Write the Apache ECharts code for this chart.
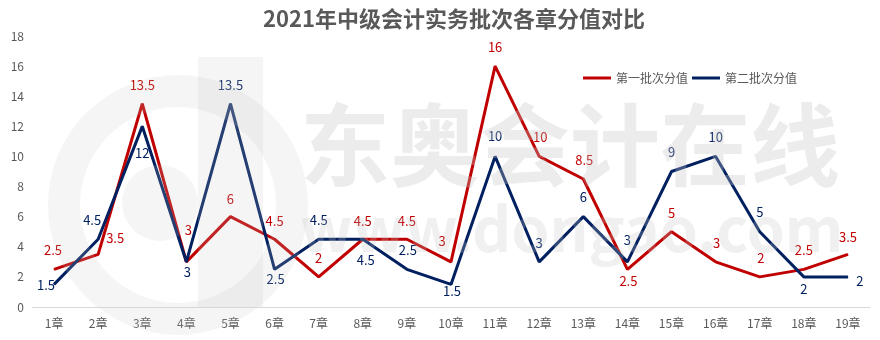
<!DOCTYPE html>
<html>
<head>
<meta charset="utf-8">
<script src="https://cdn.jsdelivr.net/npm/echarts@6/dist/echarts.min.js"></script>
<style>html,body{margin:0;padding:0;background:#fff}#c{width:880px;height:340px}</style>
</head>
<body>
<div id="c"></div>
<script>
var titleText = '2021年中级会计实务批次各章分值对比';
var categories = ['1章','2章','3章','4章','5章','6章','7章','8章','9章','10章','11章','12章','13章','14章','15章','16章','17章','18章','19章'];
var seriesNames = ['第一批次分值', '第二批次分值'];
var batch1 = [2.5, 3.5, 13.5, 3, 6, 4.5, 2, 4.5, 4.5, 3, 16, 10, 8.5, 2.5, 5, 3, 2, 2.5, 3.5];
var batch2 = [1.5, 4.5, 12, 3, 13.5, 2.5, 4.5, 4.5, 2.5, 1.5, 10, 3, 6, 3, 9, 10, 5, 2, 2];

// label offsets (layout only)
var off1 = [[-1,-19],[17,-16],[0,-19],[2,-32],[0,-18],[0,-18],[0,-19],[0,-18],[0,-18],[-9,-21],[0,-19],[1,-19],[1,-19],[1,12],[0,-19],[1,-19],[1,-19],[0,-19],[0,-17]];
var off2 = [[-8,1],[-6,-19],[0,27],[1,10],[0,-19],[1,10],[0,-19],[3,21],[1,-19],[1,7],[0,-20],[0,-19],[0,-20],[0,-22],[0,-19],[0,-19],[0,-20],[0,12],[12,4]];

var red = '#C00000', navy = '#002060';
var font = '"Noto Sans CJK SC", "Noto Sans", sans-serif';

function build(vals, offs) {
  return vals.map(function (v, i) {
    return { value: v, label: { offset: offs[i] } };
  });
}

var chart = echarts.init(document.getElementById('c'), null, { renderer: 'canvas' });
var wm = 'rgba(195,195,195,0.32)';
chart.setOption({
  animation: false,
  backgroundColor: '#fff',
  textStyle: { fontFamily: font },
  title: {
    text: titleText,
    left: 258,
    top: 3,
    textStyle: { fontSize: 22, fontWeight: 'bold', color: '#595959', fontFamily: font }
  },
  legend: {
    left: 578, top: 67,
    itemWidth: 28, itemHeight: 3, itemGap: 4,
    icon: 'rect',
    textStyle: { fontSize: 12, color: '#595959', fontFamily: font },
    data: seriesNames
  },
  grid: { left: 32, right: 10, top: 36, bottom: 33 },
  xAxis: {
    type: 'category',
    data: categories,
    boundaryGap: true,
    axisLine: { lineStyle: { color: '#d9d9d9', width: 1 } },
    axisTick: { show: false },
    axisLabel: { color: '#595959', fontSize: 12, margin: 10, fontFamily: font }
  },
  yAxis: {
    type: 'value', min: 0, max: 18, interval: 2,
    axisLine: { show: false }, axisTick: { show: false },
    splitLine: { show: false },
    axisLabel: { color: '#595959', fontSize: 12, margin: 8, fontFamily: font }
  },
  graphic: [
    { type: 'ring', z: 100, silent: true, shape: { cx: 178, cy: 205, r: 130, r0: 98 }, style: { fill: 'rgba(200,200,200,0.18)' } },
    { type: 'circle', z: 100, silent: true, shape: { cx: 160, cy: 203, r: 38 }, style: { fill: 'rgba(200,200,200,0.18)' } },
    { type: 'rect', z: 100, silent: true, shape: { x: 198, y: 57, width: 65, height: 250 }, style: { fill: 'rgba(200,200,200,0.18)' } },
    { type: 'text', z: 100, silent: true, left: 300, top: 100, style: { text: '东奥会计在线', fill: wm, font: 'bold 90px ' + font } },
    { type: 'text', z: 100, silent: true, left: 300, top: 198, style: { text: 'www.dongao.com', fill: 'rgba(195,195,195,0.25)', font: 'bold 61px ' + font } }
  ],
  series: [
    {
      name: seriesNames[0], type: 'line',
      data: build(batch1, off1),
      symbol: 'circle', symbolSize: 1, showSymbol: true,
      lineStyle: { color: red, width: 3 },
      itemStyle: { color: red },
      label: { show: true, position: 'inside', color: red, fontSize: 13, fontFamily: font },
      z: 3
    },
    {
      name: seriesNames[1], type: 'line',
      data: build(batch2, off2),
      symbol: 'circle', symbolSize: 1, showSymbol: true,
      lineStyle: { color: navy, width: 3 },
      itemStyle: { color: navy },
      label: { show: true, position: 'inside', color: navy, fontSize: 13, fontFamily: font },
      z: 4
    }
  ]
});
</script>
</body>
</html>
